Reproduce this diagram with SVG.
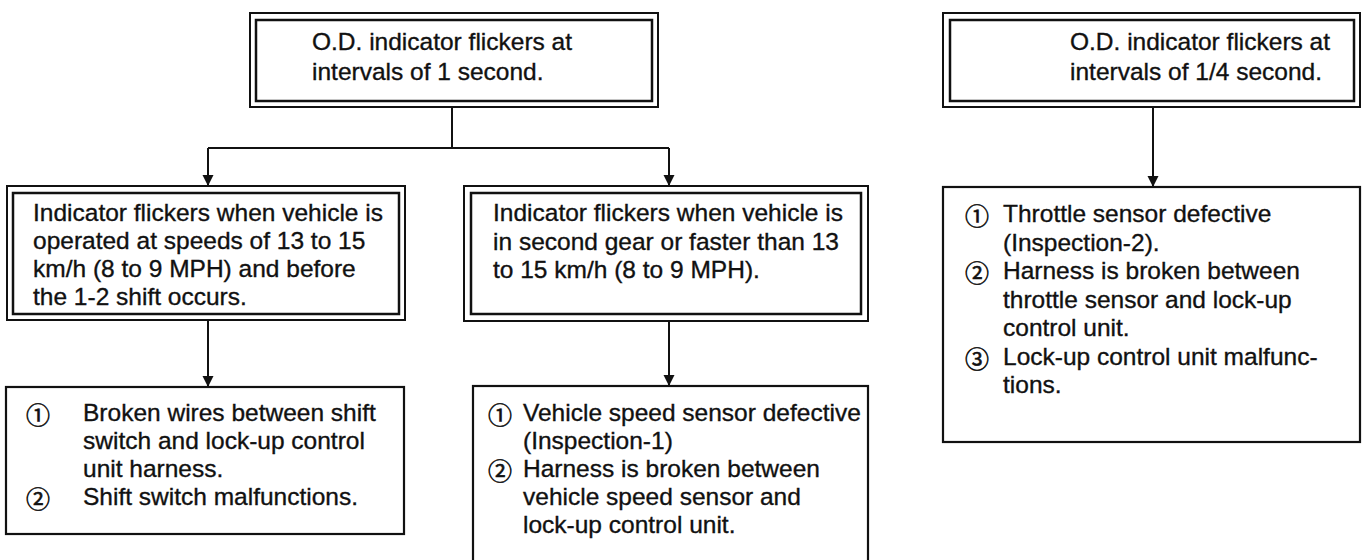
<svg xmlns="http://www.w3.org/2000/svg" width="1367" height="560" viewBox="0 0 1367 560">
<style>
  .bg{fill:#ffffff}
  .outer{fill:#ffffff;stroke:#111;stroke-width:2}
  .inner{fill:none;stroke:#111;stroke-width:2.5}
  .single{fill:#ffffff;stroke:#111;stroke-width:2.2}
  .t{font-family:"Liberation Sans",Arial,sans-serif;font-size:24.5px;fill:#111;stroke:#111;stroke-width:0.35}
  .num{font-family:"Noto Sans CJK JP","DejaVu Sans",sans-serif;font-size:24px;fill:#111;stroke:#111;stroke-width:0.6}
  .conn{fill:none;stroke:#111;stroke-width:2}
</style>
<defs>
  <marker id="arr" viewBox="0 0 10 10" refX="10" refY="5" markerWidth="11" markerHeight="12" markerUnits="userSpaceOnUse" orient="auto">
    <path d="M0,0 L10,5 L0,10 z" fill="#111"/>
  </marker>
</defs>
<rect class="bg" x="0" y="0" width="1367" height="560"/>

<g id="connectors">
  <path class="conn" d="M452,107 V148"/>
  <path class="conn" d="M208,148 H669"/>
  <path class="conn" d="M208,148 V186" marker-end="url(#arr)"/>
  <path class="conn" d="M669,148 V186" marker-end="url(#arr)"/>
  <path class="conn" d="M208,320 V387" marker-end="url(#arr)"/>
  <path class="conn" d="M669,321 V386" marker-end="url(#arr)"/>
  <path class="conn" d="M1153,107 V187" marker-end="url(#arr)"/>
</g>

<g id="top-left">
  <rect class="outer" x="250" y="13" width="408" height="94"/>
  <rect class="inner" x="256" y="20" width="396" height="81"/>
  <text class="t" x="312" y="50">O.D. indicator flickers at</text>
  <text class="t" x="312" y="80">intervals of 1 second.</text>
</g>

<g id="top-right">
  <rect class="outer" x="943" y="13" width="417" height="94"/>
  <rect class="inner" x="950" y="20" width="404" height="81"/>
  <text class="t" x="1070" y="50">O.D. indicator flickers at</text>
  <text class="t" x="1070" y="80">intervals of 1/4 second.</text>
</g>

<g id="mid-left">
  <rect class="outer" x="7" y="186" width="398" height="134"/>
  <rect class="inner" x="13" y="193" width="386" height="121"/>
  <text class="t" x="33" y="221">Indicator flickers when vehicle is</text>
  <text class="t" x="33" y="249">operated at speeds of 13 to 15</text>
  <text class="t" x="33" y="277">km/h (8 to 9 MPH) and before</text>
  <text class="t" x="33" y="305">the 1-2 shift occurs.</text>
</g>

<g id="mid-middle">
  <rect class="outer" x="464" y="186" width="404" height="135"/>
  <rect class="inner" x="471" y="193" width="390" height="121"/>
  <text class="t" x="493" y="221">Indicator flickers when vehicle is</text>
  <text class="t" x="493" y="250">in second gear or faster than 13</text>
  <text class="t" x="493" y="278">to 15 km/h (8 to 9 MPH).</text>
</g>

<g id="bottom-left">
  <rect class="single" x="6" y="387" width="398" height="147"/>
  <text class="num" x="26" y="424">①</text>
  <text class="t" x="83" y="421">Broken wires between shift</text>
  <text class="t" x="83" y="449">switch and lock-up control</text>
  <text class="t" x="83" y="477">unit harness.</text>
  <text class="num" x="26" y="508">②</text>
  <text class="t" x="83" y="505">Shift switch malfunctions.</text>
</g>

<g id="bottom-middle">
  <rect class="single" x="473" y="386" width="395" height="190"/>
  <text class="num" x="488" y="424">①</text>
  <text class="t" x="523" y="421">Vehicle speed sensor defective</text>
  <text class="t" x="523" y="449">(Inspection-1)</text>
  <text class="num" x="488" y="480">②</text>
  <text class="t" x="523" y="477">Harness is broken between</text>
  <text class="t" x="523" y="505">vehicle speed sensor and</text>
  <text class="t" x="523" y="533">lock-up control unit.</text>
</g>

<g id="right-bottom">
  <rect class="single" x="943" y="187" width="417" height="255"/>
  <text class="num" x="965" y="225">①</text>
  <text class="t" x="1003" y="222">Throttle sensor defective</text>
  <text class="t" x="1003" y="250.5">(Inspection-2).</text>
  <text class="num" x="965" y="282">②</text>
  <text class="t" x="1003" y="279">Harness is broken between</text>
  <text class="t" x="1003" y="307.5">throttle sensor and lock-up</text>
  <text class="t" x="1003" y="336">control unit.</text>
  <text class="num" x="965" y="367.5">③</text>
  <text class="t" x="1003" y="364.5">Lock-up control unit malfunc-</text>
  <text class="t" x="1003" y="393">tions.</text>
</g>
</svg>
